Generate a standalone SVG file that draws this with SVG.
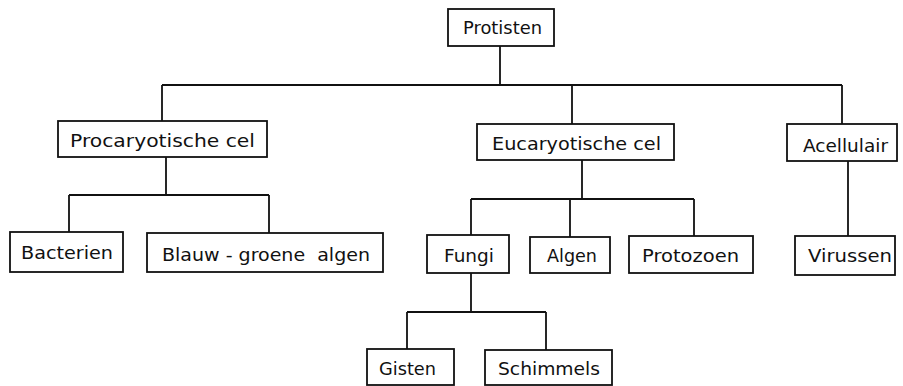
<svg xmlns="http://www.w3.org/2000/svg" width="903" height="386" viewBox="0 0 903 386">
<style>
.box{fill:#fff;stroke:#111;stroke-width:1.8}
.lbl{font-family:"DejaVu Sans","Liberation Sans",sans-serif;font-size:17px;fill:#111;white-space:pre}
.con{fill:none;stroke:#111;stroke-width:1.8}
</style>
<rect width="903" height="386" fill="#fff"/>
<g id="connectors" class="con">
<path d="M500,46 V85 M162,85 H842 M162,85 V121 M572,85 V124 M842,85 V124"/>
<path d="M166,157 V195 M69,195 H269 M69,195 V232 M269,195 V233"/>
<path d="M582,160 V199 M471,199 H694 M471,199 V235 M570,199 V237 M694,199 V236"/>
<path d="M848,161 V236"/>
<path d="M471,273 V312 M407,312 H546 M407,312 V349 M546,312 V350"/>
</g>
<g id="protisten"><rect class="box" x="448" y="9" width="106" height="37"/><text class="lbl" x="463" y="34" textLength="79" lengthAdjust="spacingAndGlyphs">Protisten</text></g>
<g id="procaryotische"><rect class="box" x="58" y="121" width="209" height="36"/><text class="lbl" x="70" y="147" textLength="185" lengthAdjust="spacingAndGlyphs">Procaryotische cel</text></g>
<g id="eucaryotische"><rect class="box" x="477" y="124" width="197" height="36"/><text class="lbl" x="492" y="150" textLength="169" lengthAdjust="spacingAndGlyphs">Eucaryotische cel</text></g>
<g id="acellulair"><rect class="box" x="787" y="124" width="110" height="37"/><text class="lbl" x="803" y="152" textLength="85" lengthAdjust="spacingAndGlyphs">Acellulair</text></g>
<g id="bacterien"><rect class="box" x="10" y="232" width="113" height="40"/><text class="lbl" x="21" y="259" textLength="92" lengthAdjust="spacingAndGlyphs">Bacterien</text></g>
<g id="blauwgroene"><rect class="box" x="147" y="233" width="236" height="39"/><text class="lbl" x="162" y="261" textLength="208" lengthAdjust="spacingAndGlyphs" xml:space="preserve">Blauw - groene  algen</text></g>
<g id="fungi"><rect class="box" x="427" y="235" width="82" height="38"/><text class="lbl" x="444" y="262" textLength="50" lengthAdjust="spacingAndGlyphs">Fungi</text></g>
<g id="algen"><rect class="box" x="530" y="237" width="80" height="36"/><text class="lbl" x="547" y="262" textLength="50" lengthAdjust="spacingAndGlyphs">Algen</text></g>
<g id="protozoen"><rect class="box" x="629" y="236" width="124" height="37"/><text class="lbl" x="642" y="262" textLength="97" lengthAdjust="spacingAndGlyphs">Protozoen</text></g>
<g id="virussen"><rect class="box" x="795" y="236" width="100" height="39"/><text class="lbl" x="808" y="262" textLength="84" lengthAdjust="spacingAndGlyphs">Virussen</text></g>
<g id="gisten"><rect class="box" x="367" y="349" width="87" height="36"/><text class="lbl" x="379" y="375" textLength="57" lengthAdjust="spacingAndGlyphs">Gisten</text></g>
<g id="schimmels"><rect class="box" x="485" y="350" width="127" height="35"/><text class="lbl" x="498" y="375" textLength="102" lengthAdjust="spacingAndGlyphs">Schimmels</text></g>
</svg>
